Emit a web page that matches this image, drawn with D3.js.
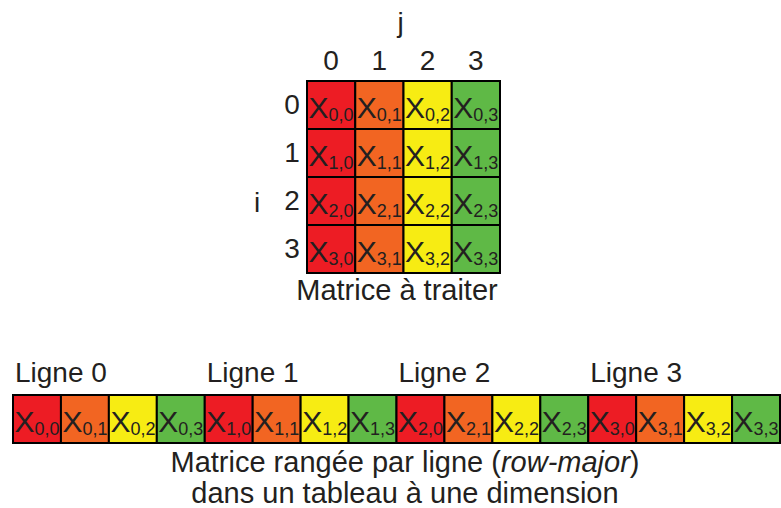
<!DOCTYPE html>
<html>
<head>
<meta charset="utf-8">
<script src="https://cdn.jsdelivr.net/npm/d3@7"></script>
<style>
  body { margin: 0; background: #fff; }
  text { font-family: "Liberation Sans", Arial, sans-serif; fill: #231f20; }
</style>
</head>
<body>
<div id="chart"></div>
<script>
// Matrix indices and colours per column
const rows = [0, 1, 2, 3];
const cols = [0, 1, 2, 3];
const colColors = ['#ed1c24', '#f26522', '#f7ec13', '#5fb946'];
const rowLabels = ['Ligne 0', 'Ligne 1', 'Ligne 2', 'Ligne 3'];
const topCaption = 'Matrice à traiter';
const bottomCaption = ['Matrice rangée par ligne (', 'row-major', ')'];
const bottomCaption2 = 'dans un tableau à une dimension';

const width = 781, height = 508;

const svg = d3.select('#chart')
    .append('svg')
    .attr('width', width)
    .attr('height', height);

// --- 2D matrix ---
const x = d3.scaleBand().domain(cols).range([307, 500]);
const y = d3.scaleBand().domain(rows).range([81, 273]);

const cells = rows.flatMap(i => cols.map(j => ({ i, j })));

const mat = svg.append('g');

mat.selectAll('rect')
    .data(cells)
    .enter()
    .append('rect')
    .attr('x', d => x(d.j))
    .attr('y', d => y(d.i))
    .attr('width', x.bandwidth())
    .attr('height', y.bandwidth())
    .style('fill', d => colColors[d.j])
    .style('stroke', '#000')
    .style('stroke-width', 2);

// cell labels X_{i,j}
function cellLabel(sel, px, py) {
    const t = sel.append('text')
        .attr('x', px)
        .attr('y', py)
        .style('font-size', '30px');
    t.append('tspan').text('X');
    t.append('tspan')
        .attr('dy', 3)
        .style('font-size', '18px')
        .text(d => `${d.i},${d.j}`);
}

mat.selectAll('g.cell')
    .data(cells)
    .enter()
    .append('g')
    .attr('class', 'cell')
    .each(function(d) {
        cellLabel(d3.select(this), x(d.j) + 1.5, y(d.i) + 37);
    });

// column header
svg.selectAll('.colLab')
    .data(cols)
    .enter()
    .append('text')
    .attr('class', 'colLab')
    .attr('x', d => x(d) + x.bandwidth() / 2)
    .attr('y', 70)
    .style('text-anchor', 'middle')
    .style('font-size', '28px')
    .text(d => d);

svg.append('text')
    .attr('x', (x.range()[0] + x.range()[1]) / 2 - 3)
    .attr('y', 32)
    .style('text-anchor', 'middle')
    .style('font-size', '28px')
    .text('j');

// row header
svg.selectAll('.rowLab')
    .data(rows)
    .enter()
    .append('text')
    .attr('class', 'rowLab')
    .attr('x', 292)
    .attr('y', d => y(d) + y.bandwidth() / 2 + 9)
    .style('text-anchor', 'middle')
    .style('font-size', '28px')
    .text(d => d);

svg.append('text')
    .attr('x', 257)
    .attr('y', 212)
    .style('text-anchor', 'middle')
    .style('font-size', '28px')
    .text('i');

svg.append('text')
    .attr('x', 397)
    .attr('y', 300)
    .style('text-anchor', 'middle')
    .style('font-size', '29px')
    .text(topCaption);

// --- 1D row-major array ---
const flat = cells; // already in row-major order
const fx = d3.scaleBand().domain(d3.range(flat.length)).range([13, 780]);
const fy0 = 395, fh = 48;

const arr = svg.append('g');

arr.selectAll('rect')
    .data(flat)
    .enter()
    .append('rect')
    .attr('x', (d, k) => fx(k))
    .attr('y', fy0)
    .attr('width', fx.bandwidth())
    .attr('height', fh)
    .style('fill', d => colColors[d.j])
    .style('stroke', '#000')
    .style('stroke-width', 2);

arr.selectAll('g.cell')
    .data(flat)
    .enter()
    .append('g')
    .attr('class', 'cell')
    .each(function(d, k) {
        cellLabel(d3.select(this), fx(k) + 1.5, fy0 + 37);
    });

svg.selectAll('.ligne')
    .data(rows)
    .enter()
    .append('text')
    .attr('class', 'ligne')
    .attr('x', d => fx(d * cols.length) + 2)
    .attr('y', 382)
    .style('font-size', '28px')
    .text(d => rowLabels[d]);

const cap = svg.append('text')
    .attr('x', 405)
    .attr('y', 472)
    .style('text-anchor', 'middle')
    .style('font-size', '29px');
cap.append('tspan').text(bottomCaption[0]);
cap.append('tspan').style('font-style', 'italic').text(bottomCaption[1]);
cap.append('tspan').text(bottomCaption[2]);

svg.append('text')
    .attr('x', 405)
    .attr('y', 503)
    .style('text-anchor', 'middle')
    .style('font-size', '29px')
    .text(bottomCaption2);
</script>
</body>
</html>
